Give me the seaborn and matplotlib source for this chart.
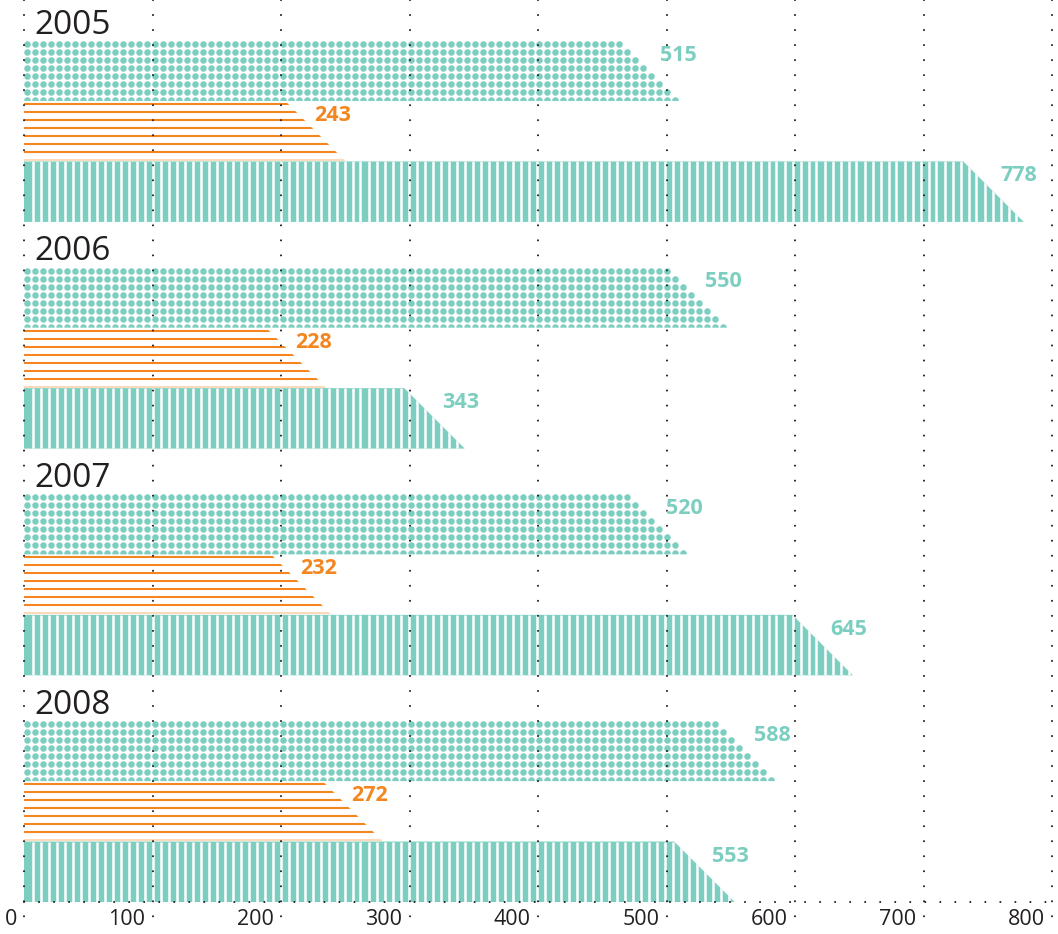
import matplotlib.pyplot as plt
import pandas as pd
import seaborn as sns
import numpy as np
from matplotlib.patches import Polygon
from matplotlib.transforms import ScaledTranslation

years = ['2005', '2006', '2007', '2008']
series = ['dots', 'lines', 'stripes']
dots_values = [515, 550, 520, 588]
lines_values = [243, 228, 232, 272]
stripes_values = [778, 343, 645, 553]
ticks = [0, 100, 200, 300, 400, 500, 600, 700, 800]

TEAL = '#7ccfc0'
ORANGE = '#f4861f'
INK = '#231f20'
palette = {'dots': TEAL, 'lines': ORANGE, 'stripes': TEAL}

sns.set_style('white')
plt.rcParams['font.family'] = ['Open Sans', 'DejaVu Sans']

W, H = 1058, 934
fig = plt.figure(figsize=(W / 100, H / 100), dpi=100)
ax = fig.add_axes([0, 32 / H, 1, 902 / H])

df = pd.DataFrame({
    'year': years * 3,
    'value': dots_values + lines_values + stripes_values,
    'series': [s for s in series for _ in years],
})

sns.barplot(data=df, x='value', y='year', hue='series', orient='h',
            palette=palette, width=0.8, saturation=1, errorbar=None,
            legend=False, ax=ax)

# scale: 1.285 px per unit on x, 0 sits 24 px from the left edge
px_x = 1.285
ax.set_xlim(-24 / px_x, (W - 24) / px_x)
y_top = 3.4 - 902 / 226.7
ax.set_ylim(3.4, y_top)
px_y = 902 / (3.4 - y_top)

bars = list(ax.patches)
for i, p in enumerate(bars):
    kind = series[i // len(years)]
    v = p.get_width()
    y0 = p.get_y()
    h = p.get_height()
    p.set_visible(False)
    hpx = h * px_y
    if kind == 'lines':
        # diagonal passes through the value at the last full line
        top_cut = 51 / px_x
        bot_x = v + (hpx - 51) / px_x
    else:
        top_cut = hpx / px_x
        bot_x = v
    poly = Polygon([(0, y0), (v - top_cut, y0), (bot_x, y0 + h), (0, y0 + h)],
                   closed=True, fc='none', ec='none')
    ax.add_patch(poly)
    if kind == 'dots':
        xs = np.arange(3, v * px_x, 8)
        ys = np.arange(3.5, hpx + 3, 8)
        xx, yy = np.meshgrid(xs, ys)
        # keep whole dots left of the diagonal
        keep = xx + 2 <= (v * px_x - hpx) + yy
        sc = ax.scatter(xx[keep] / px_x, y0 + yy[keep] / px_y, s=22,
                        color=TEAL, linewidths=0, zorder=2)
        sc.set_clip_path(poly)
        lab_color = TEAL
        dx = -26
    elif kind == 'lines':
        ys = y0 + np.arange(3, 55, 8) / px_y
        lc = ax.hlines(ys, 0, bot_x, colors=ORANGE, linewidth=1.5, zorder=2)
        lc.set_clip_path(poly)
        faint = ax.hlines([y0 + 59 / px_y], 0, bot_x, colors=ORANGE,
                          linewidth=1.5, alpha=0.3, zorder=2)
        faint.set_clip_path(poly)
        lab_color = ORANGE
        dx = -22
    else:
        fill = Polygon(poly.get_xy(), closed=True, fc=TEAL, ec='none', zorder=2)
        ax.add_patch(fill)
        xs = np.arange(8.5, v * px_x + 8, 8) / px_x
        wl = ax.vlines(xs, y0, y0 + h, colors='white', linewidth=1.8, zorder=2.1)
        wl.set_clip_path(poly)
        lab_color = TEAL
        dx = -23
    ax.text(v + dx / px_x, y0 + 20 / px_y, str(int(v)), color=lab_color,
            fontsize=15.5, fontweight='bold', ha='left', va='baseline',
            zorder=4)

# year labels above each group
for g, yr in enumerate(years):
    ax.text(8, g - 0.4 - 7 / px_y, yr, fontsize=24, color=INK,
            ha='left', va='baseline', zorder=4)

# dotted grid
dot_ls = (0, (0.01, 7.2))
for t in ticks:
    ax.plot([t, t], [y_top, 3.4 + 28 / px_y], color=INK, lw=1.5,
            linestyle=dot_ls, dash_capstyle='round', zorder=3, clip_on=False)
ax.plot([0, 800], [3.4, 3.4], color=INK, lw=1.5, linestyle=dot_ls,
        dash_capstyle='round', zorder=3, clip_on=False)

for s in ax.spines.values():
    s.set_visible(False)
ax.set_yticks([])
ax.set_xticks(ticks)
ax.set_xticklabels([str(t) for t in ticks])
ax.tick_params(axis='x', length=0, pad=5, labelsize=15.5, labelcolor=INK)
ax.set_xlabel('')
ax.set_ylabel('')
shift = ScaledTranslation(-7 / 100, 0, fig.dpi_scale_trans)
for lab in ax.get_xticklabels():
    lab.set_ha('right')
    lab.set_transform(lab.get_transform() + shift)

fig.savefig('out.png', dpi=100)
